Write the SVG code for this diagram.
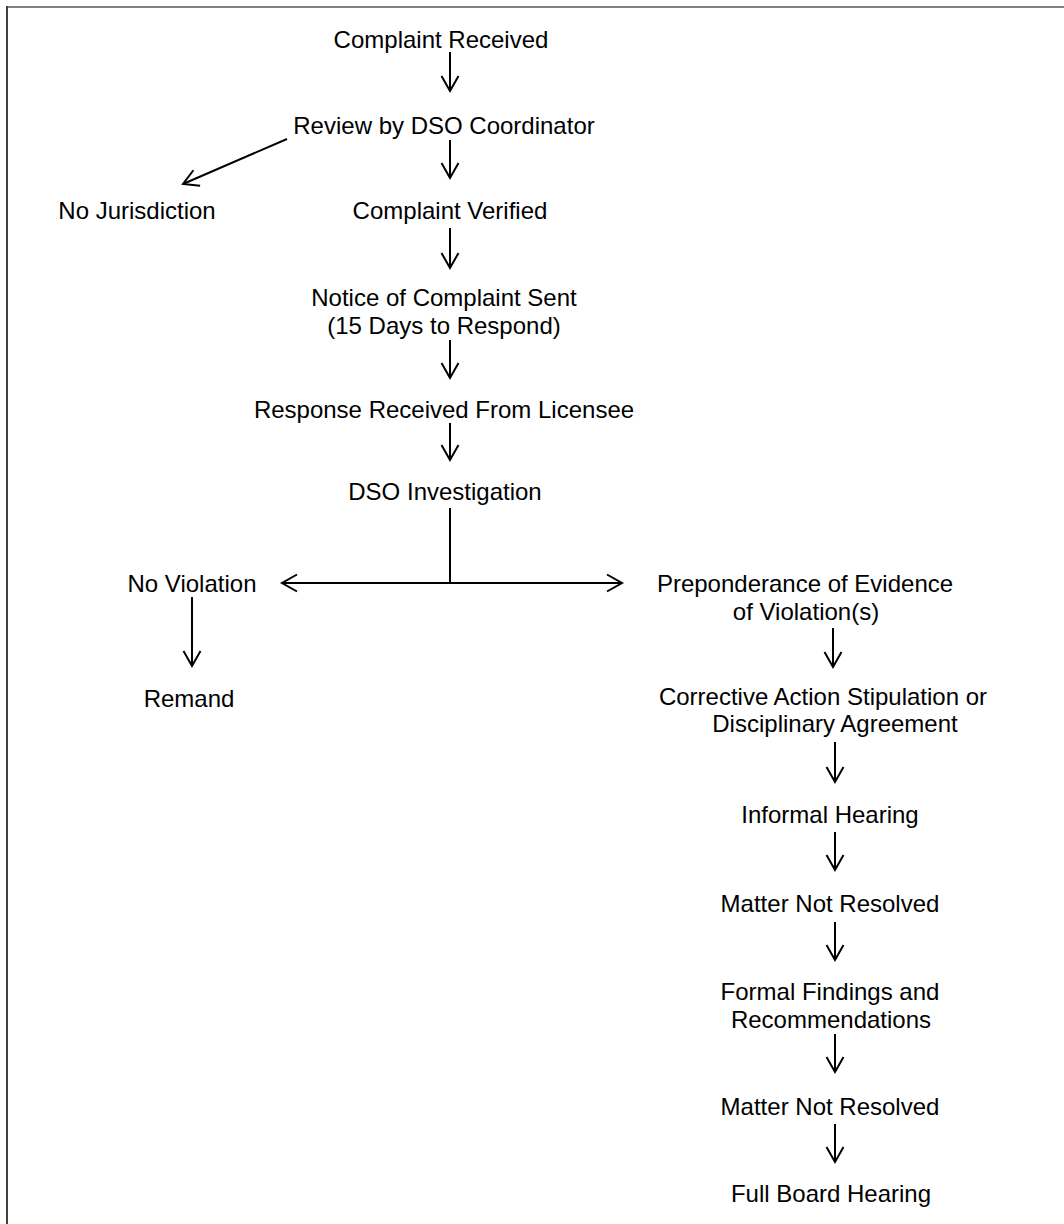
<svg xmlns="http://www.w3.org/2000/svg" width="1064" height="1224" viewBox="0 0 1064 1224">
<style>
text{font-family:"Liberation Sans",Arial,sans-serif;font-size:24px;fill:#000;text-anchor:middle}
.c{stroke:#000;stroke-width:2;fill:none}
.a{marker-end:url(#ah)}
</style>
<defs>
<marker id="ah" markerUnits="userSpaceOnUse" markerWidth="20" markerHeight="20" viewBox="-16 -10 18 20" refX="0" refY="0" orient="auto" overflow="visible">
<path d="M-15,-8.5 L0,0 L-15,8.5" fill="none" stroke="#000" stroke-width="2"/>
</marker>
</defs>
<rect width="1064" height="1224" fill="#fff"/>
<line x1="6" y1="7" x2="1064" y2="7" stroke="#808080" stroke-width="2"/>
<line x1="7" y1="6" x2="7" y2="1224" stroke="#404040" stroke-width="2"/>
<g id="n1"><text x="441" y="48">Complaint Received</text></g>
<g id="n2"><text x="444" y="134">Review by DSO Coordinator</text></g>
<g id="n3"><text x="137" y="219">No Jurisdiction</text></g>
<g id="n4"><text x="450" y="219">Complaint Verified</text></g>
<g id="n5"><text x="444" y="306">Notice of Complaint Sent</text><text x="444" y="334">(15 Days to Respond)</text></g>
<g id="n6"><text x="444" y="418">Response Received From Licensee</text></g>
<g id="n7"><text x="445" y="500">DSO Investigation</text></g>
<g id="n8"><text x="192" y="592">No Violation</text></g>
<g id="n9"><text x="189" y="707">Remand</text></g>
<g id="n10"><text x="805" y="592">Preponderance of Evidence</text><text x="806" y="620">of Violation(s)</text></g>
<g id="n11"><text x="823" y="705">Corrective Action Stipulation or</text><text x="835" y="732">Disciplinary Agreement</text></g>
<g id="n12"><text x="830" y="823">Informal Hearing</text></g>
<g id="n13"><text x="830" y="912">Matter Not Resolved</text></g>
<g id="n14"><text x="830" y="1000">Formal Findings and</text><text x="831" y="1028">Recommendations</text></g>
<g id="n15"><text x="830" y="1115">Matter Not Resolved</text></g>
<g id="n16"><text x="831" y="1202">Full Board Hearing</text></g>
<g id="connectors">
<line class="c a" x1="450" y1="52" x2="450" y2="91"/>
<line class="c a" x1="450" y1="140" x2="450" y2="178"/>
<line class="c a" x1="287" y1="139" x2="183" y2="184"/>
<line class="c a" x1="450" y1="228" x2="450" y2="268"/>
<line class="c a" x1="450" y1="340" x2="450" y2="378"/>
<line class="c a" x1="450" y1="423" x2="450" y2="460"/>
<line class="c" x1="450" y1="508" x2="450" y2="583"/>
<line class="c a" x1="450" y1="583" x2="282" y2="583"/>
<line class="c a" x1="450" y1="583" x2="622" y2="583"/>
<line class="c a" x1="192" y1="597" x2="192" y2="666"/>
<line class="c a" x1="833" y1="628" x2="833" y2="667"/>
<line class="c a" x1="835" y1="742" x2="835" y2="782"/>
<line class="c a" x1="835" y1="832" x2="835" y2="870"/>
<line class="c a" x1="835" y1="922" x2="835" y2="960"/>
<line class="c a" x1="835" y1="1034" x2="835" y2="1072"/>
<line class="c a" x1="835" y1="1124" x2="835" y2="1162"/>
</g>
</svg>
